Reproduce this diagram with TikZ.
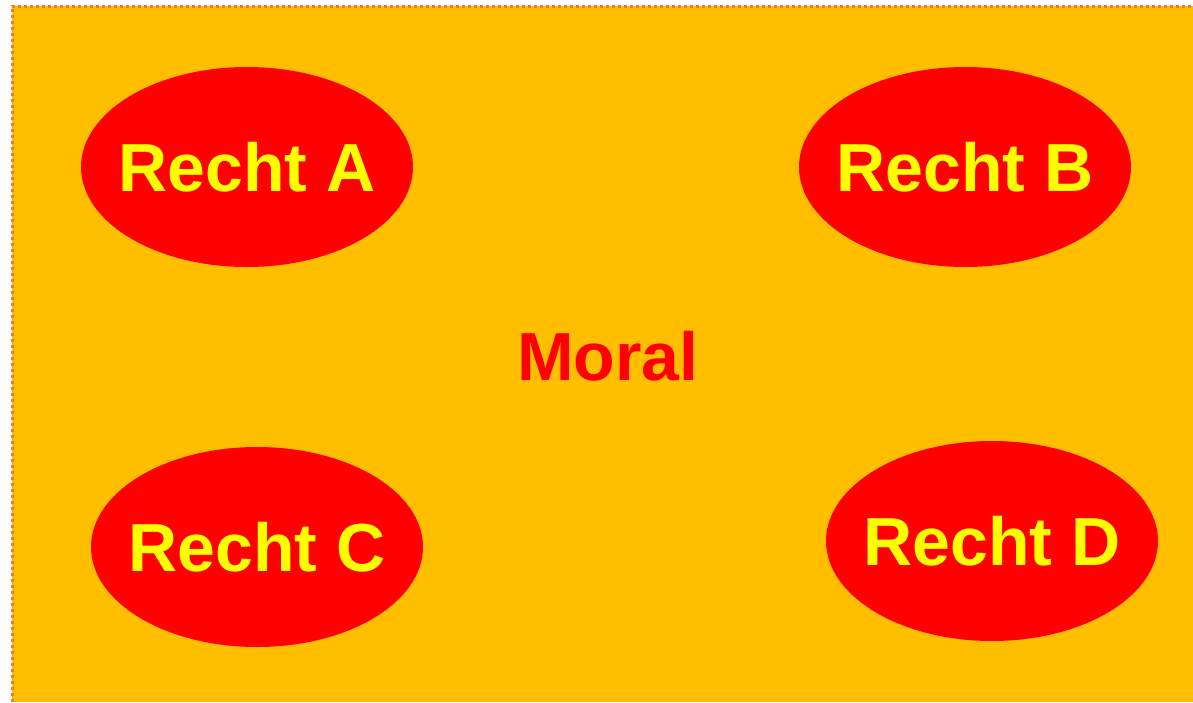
\documentclass[tikz,border=0pt]{standalone}
\usepackage{fontspec}
\setmainfont{Liberation Sans}
\usetikzlibrary{shapes.geometric}
\definecolor{bg}{HTML}{FFBF00}
\definecolor{rd}{HTML}{FF0000}
\definecolor{yl}{HTML}{FFFF00}
\definecolor{bd}{HTML}{F07830}
\tikzset{
  rtext/.style={text=yl, font=\fontsize{68}{70}\selectfont\bfseries, inner sep=0pt},
  recht/.style={ellipse, fill=rd, minimum width=332pt, minimum height=200pt, inner sep=0pt},
  moral/.style={text=rd, font=\fontsize{68}{70}\selectfont\bfseries}
}
\begin{document}
\begin{tikzpicture}[x=1pt,y=-1pt]
\useasboundingbox (0,0) rectangle (1193,702);
\fill[white] (0,0) rectangle (1193,702);
\fill[bg] (12,6) rectangle (1193,702);
\draw[bd, line width=3pt, dash pattern=on 3pt off 3pt] (12,702) -- (12,6) -- (1193,6);
\node[recht, label={[rtext]center:Recht A}] (A) at (247,167) {};
\node[recht, label={[rtext]center:Recht B}] (B) at (965,167) {};
\node[recht, label={[rtext]center:Recht C}] (C) at (257,547) {};
\node[recht, label={[rtext]center:Recht D}] (D) at (992,541) {};
\node[moral] (M) at (608,356) {Moral};
\end{tikzpicture}
\end{document}
